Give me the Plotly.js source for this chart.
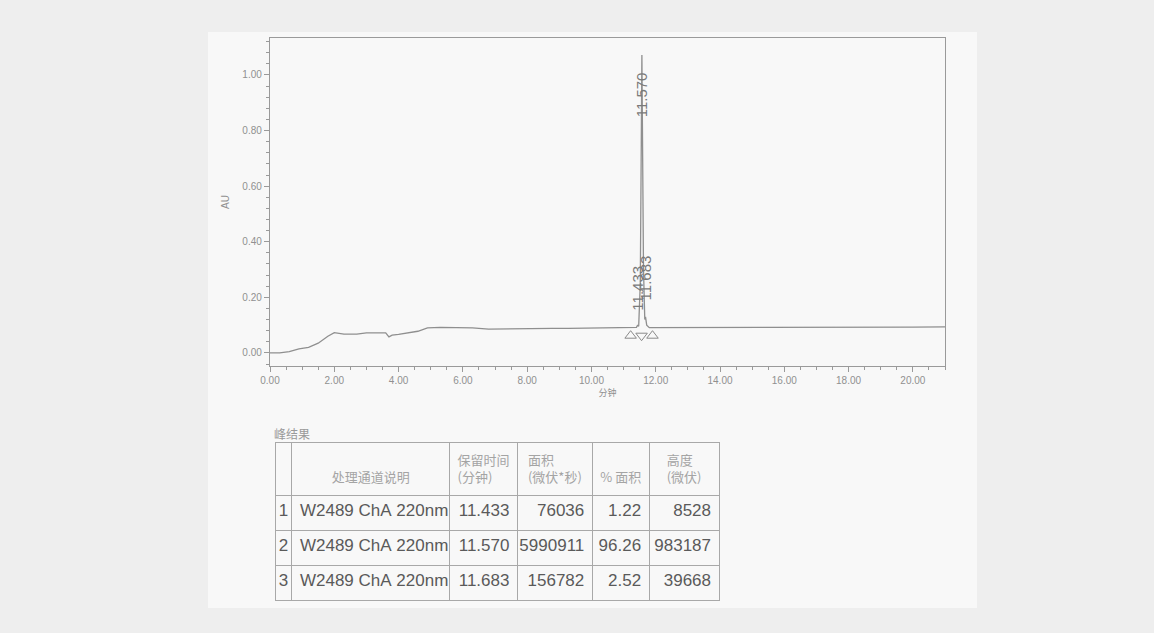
<!DOCTYPE html>
<html>
<head>
<meta charset="utf-8">
<script src="https://cdn.plot.ly/plotly-3.0.1.min.js"></script>
<style>html,body{margin:0;padding:0;background:#eeeeee;}#chart{width:1154px;height:633px;}</style>
</head>
<body>
<div id="chart"></div>
<script>
// chromatogram trace (minutes, AU)
const timeMin = [0, 0.3, 0.6, 0.9, 1.2, 1.5, 1.8, 2.0, 2.3, 2.7, 3.0, 3.4, 3.6, 3.7, 3.8, 4.0, 4.3, 4.6, 4.9, 5.3, 5.8, 6.3, 6.8, 7.3, 7.8, 8.3, 8.8, 9.3, 9.8, 10.3, 10.8, 11.2, 11.4, 11.433, 11.47, 11.52, 11.57, 11.62, 11.66, 11.683, 11.72, 11.8, 12.0, 13, 14, 15, 16, 17, 18, 19, 20, 21];
const absorbanceAU = [0.0, 0.0, 0.005, 0.015, 0.02, 0.035, 0.06, 0.073, 0.068, 0.068, 0.072, 0.073, 0.072, 0.058, 0.064, 0.067, 0.072, 0.078, 0.09, 0.092, 0.091, 0.09, 0.086, 0.087, 0.088, 0.087, 0.088, 0.088, 0.089, 0.089, 0.089, 0.09, 0.092, 0.099, 0.096, 0.25, 1.072, 0.3, 0.12, 0.13, 0.1, 0.091, 0.091, 0.092, 0.092, 0.093, 0.093, 0.093, 0.093, 0.093, 0.093, 0.094];

// peak labels
const peakTimes = [11.433, 11.570, 11.683];
const peakLabels = ["11.433", "11.570", "11.683"];
const peakLabelY = [0.233, 0.93, 0.27];

// integration markers
const markerTimes = [11.22, 11.56, 11.90];
const markerAU = [0.062, 0.062, 0.062];
const markerSymbols = ["triangle-up-open", "triangle-down-open", "triangle-up-open"];

// axis ticks
const xTickVals = [0, 2, 4, 6, 8, 10, 12, 14, 16, 18, 20];
const xTickText = ["0.00", "2.00", "4.00", "6.00", "8.00", "10.00", "12.00", "14.00", "16.00", "18.00", "20.00"];
const yTickVals = [0, 0.2, 0.4, 0.6, 0.8, 1.0];
const yTickText = ["0.00", "0.20", "0.40", "0.60", "0.80", "1.00"];

// peak result table
const tableHeader = ["", "\u00a0<br>处理通道说明", "保留时间<br>(分钟)", "面积<br>(微伏*秒)", "\u00a0<br>%\u00a0面积", "高度<br>(微伏)"];
const peakNo = ["1", "2", "3"];
const channelDesc = ["W2489\u00a0ChA\u00a0220nm", "W2489\u00a0ChA\u00a0220nm", "W2489\u00a0ChA\u00a0220nm"];
const retTime = ["11.433", "11.570", "11.683"];
const peakArea = ["76036", "5990911", "156782"];
const pctArea = ["1.22", "96.26", "2.52"];
const peakHeight = ["8528", "983187", "39668"];

const W = 1154, H = 633;
const px = v => v / W;
const py = v => 1 - v / H;

const gray = "#9a9a9a";
const sans = "Liberation Sans, Arial, sans-serif";
const cjk = "Noto Sans CJK SC, sans-serif";

const traces = [
  {
    type: "scatter", mode: "lines",
    x: timeMin, y: absorbanceAU,
    line: {color: "#8f8f8f", width: 1.3},
    hoverinfo: "skip", showlegend: false
  },
  {
    type: "scatter", mode: "markers",
    x: markerTimes, y: markerAU,
    marker: {symbol: markerSymbols, size: 10, color: "#8a8a8a", line: {width: 1}},
    hoverinfo: "skip", showlegend: false
  },
  {
    type: "table",
    domain: {x: [px(275), px(720)], y: [py(604), py(442)]},
    columnwidth: [17, 158, 68, 75, 57, 70],
    header: {
      values: tableHeader,
      height: 53,
      align: "center",
      fill: {color: "rgba(0,0,0,0)"},
      line: {color: "#a8a8a8", width: 1},
      font: {family: cjk, size: 13, color: "#a4a4a4"}
    },
    cells: {
      values: [peakNo, channelDesc, retTime, peakArea, pctArea, peakHeight],
      height: 35,
      align: ["center", "left", "right", "right", "right", "right"],
      fill: {color: "rgba(0,0,0,0)"},
      line: {color: "#a8a8a8", width: 1},
      font: {family: sans, size: 17, color: "#5a5a5a"}
    }
  }
];

const annotations = peakTimes.map((t, i) => ({
  x: t, y: peakLabelY[i], xref: "x", yref: "y",
  text: peakLabels[i], textangle: -90, showarrow: false,
  font: {family: sans, size: 15, color: "#7a7a7a"}
}));
annotations.push({
  xref: "paper", yref: "paper", x: px(272), y: py(433),
  xanchor: "left", yanchor: "middle", showarrow: false,
  text: "峰结果", font: {family: cjk, size: 12, color: "#9a9a9a"}
});

const layout = {
  width: W, height: H,
  margin: {l: 0, r: 0, t: 0, b: 0},
  paper_bgcolor: "#eeeeee",
  plot_bgcolor: "rgba(0,0,0,0)",
  showlegend: false,
  shapes: [{
    type: "rect", xref: "paper", yref: "paper", layer: "below",
    x0: px(208), x1: px(977), y0: py(608), y1: py(32),
    fillcolor: "#f8f8f8", line: {width: 0}
  }],
  xaxis: {
    domain: [px(270), px(945)],
    range: [0, 21.0],
    tickmode: "array", tickvals: xTickVals, ticktext: xTickText,
    ticks: "outside", ticklen: 5, tickcolor: gray, tickwidth: 1,
    minor: {dtick: 0.5, ticks: "outside", ticklen: 3, tickcolor: gray},
    showgrid: false, zeroline: false,
    showline: true, linecolor: gray, linewidth: 1.2, mirror: true,
    tickfont: {family: sans, size: 10, color: "#909090"},
    title: {text: "分钟", font: {family: cjk, size: 9, color: "#909090"}, standoff: 4}
  },
  yaxis: {
    domain: [py(366), py(38)],
    range: [-0.047, 1.133],
    tickmode: "array", tickvals: yTickVals, ticktext: yTickText,
    ticks: "outside", ticklen: 5, tickcolor: gray, tickwidth: 1,
    minor: {dtick: 0.04, ticks: "outside", ticklen: 3, tickcolor: gray},
    showgrid: false, zeroline: false,
    showline: true, linecolor: gray, linewidth: 1.2, mirror: true,
    tickfont: {family: sans, size: 10, color: "#909090"},
    title: {text: "AU", font: {family: sans, size: 10, color: "#909090"}, standoff: 10}
  },
  annotations: annotations
};

Plotly.newPlot("chart", traces, layout, {displayModeBar: false, staticPlot: true});
</script>
</body>
</html>
